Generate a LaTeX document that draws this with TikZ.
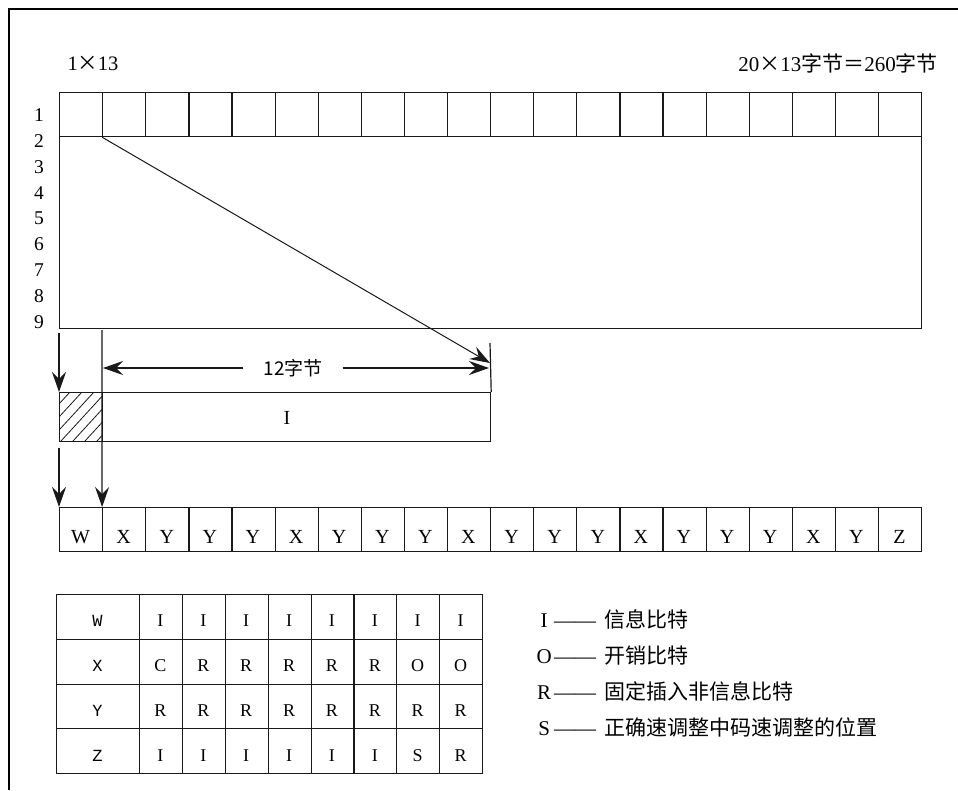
\documentclass[tikz,border=0pt]{standalone}
\usepackage{fontspec}
\setmainfont{Liberation Serif}
\newfontfamily\cjk{Noto Sans CJK SC}
\newfontfamily\mono{Liberation Mono}
\usetikzlibrary{arrows.meta}
\begin{document}
\begin{tikzpicture}[x=1pt,y=-1pt,
  ln/.style={draw=black!90, line width=1.2pt},
  cell/.style={ln, minimum width=43.1pt, minimum height=44pt, inner sep=0pt, anchor=north west},
  tcell/.style={ln, minimum width=42.875pt, minimum height=44.75pt, inner sep=0pt, anchor=north west},
  lett/.style={font=\fontsize{20}{20}\selectfont, inner sep=0pt, anchor=base},
  tlett/.style={font=\fontsize{18}{18}\selectfont, inner sep=0pt, anchor=base},
  num/.style={font=\fontsize{19.5}{19.5}\selectfont, inner sep=0pt},
  arr/.style={ln, -{Stealth[length=20pt,width=14pt,inset=7pt]}},
]
\useasboundingbox (0,0) rectangle (958,790);
% frame
\draw[line width=2.4pt, black] (9,790) -- (9,9) -- (958,9);
% top labels
\node[font=\fontsize{20.5}{20.5}\selectfont, inner sep=0pt] (lab1) at (93,63) {1\makebox[20pt]{\cjk ×}13};
\node[font=\fontsize{21}{21}\selectfont, inner sep=0pt, anchor=east] (lab2) at (938,63)
  {20\makebox[21pt]{\cjk ×}13{\cjk 字节}\makebox[21pt]{\cjk ＝}260{\cjk 字节}};
% top row
\foreach \i in {1,...,20} { \node[cell] (t\i) at ({59+(\i-1)*43.1}, 92) {}; }
% big block
\node[ln, minimum width=862pt, minimum height=192pt, inner sep=0pt, anchor=north west] (big) at (59,136) {};
% row numbers
\foreach \i in {1,...,9} { \node[num] (r\i) at (39, {115+(\i-1)*25.9}) {\i}; }
% hatched box and I box
\node[ln, minimum width=43pt, minimum height=49pt, inner sep=0pt, anchor=north west] (h) at (59,392) {};
\begin{scope}
  \clip (59,392) rectangle (102,441);
  \foreach \k in {-4,...,4} { \draw[black!90, line width=0.8pt] ({61+\k*12},441) -- ++(45,-49); }
\end{scope}
\node[ln, minimum width=388pt, minimum height=49pt, inner sep=0pt, anchor=north west] (ibox) at (102,392) {};
\node[font=\fontsize{20}{20}\selectfont, inner sep=0pt] (ilab) at (287,418) {I};
% bottom row
\foreach \l [count=\i] in {W,X,Y,Y,Y,X,Y,Y,Y,X,Y,Y,Y,X,Y,Y,Y,X,Y,Z} {
  \node[cell] (b\i) at ({59+(\i-1)*43.1}, 507) {};
  \node[lett] (bl\i) at ({59+(\i-0.5)*43.1}, 543) {\l};
}
% diagonal and tick
\coordinate (tip) at (490,363);
\draw[ln, line width=1pt, -{Stealth[length=20pt,width=14pt,inset=7pt]}] (t2.south west) -- (tip);
\coordinate (tickTop) at (490,343);
\draw[ln] (tickTop) -- (ibox.north east);
% dimension 12字节
\node[font=\cjk\fontsize{19}{19}\selectfont, inner xsep=20pt, inner ysep=0pt] (dim) at (293,368) {12字节};
\coordinate (dL) at (103,368);
\coordinate (dR) at (489,368);
\draw[arr] (dim.west) -- (dL);
\draw[arr] (dim.east) -- (dR);
% vertical arrows
\coordinate (v2) at (102,330);
\draw[arr] (v2) -- (b2.north west);
\coordinate (v1a) at (59,333);
\draw[arr] (v1a) -- (h.north west);
\coordinate (v1b) at (59,448);
\draw[arr] (v1b) -- (b1.north west);
% table
\foreach \lab/\vals [count=\ri] in {W/{I,I,I,I,I,I,I,I}, X/{C,R,R,R,R,R,O,O}, Y/{R,R,R,R,R,R,R,R}, Z/{I,I,I,I,I,I,S,R}} {
  \node[ln, minimum width=83pt, minimum height=44.75pt, inner sep=0pt, anchor=north west] (tb-\ri-0) at (56, {594+(\ri-1)*44.75}) {};
  \node[font=\mono\fontsize{17}{17}\selectfont, inner sep=0pt, anchor=base] (tl-\ri-0) at (97.5, {594+\ri*44.75-12}) {\lab};
  \foreach \v [count=\ci] in \vals {
    \node[tcell] (tb-\ri-\ci) at ({139+(\ci-1)*42.875}, {594+(\ri-1)*44.75}) {};
    \node[tlett] (tl-\ri-\ci) at ({139+(\ci-0.5)*42.875}, {594+\ri*44.75-12}) {\v};
  }
}
% legend
\foreach \L/\T [count=\k] in {I/信息比特, O/开销比特, R/固定插入非信息比特, S/正确速调整中码速调整的位置} {
  \node[anchor=base west, inner sep=0pt, font=\fontsize{21}{21}\selectfont] (lg\k) at (534, {627+(\k-1)*36})
    {\makebox[20pt]{\L}{\fontsize{21}{21}\selectfont ——}\hspace{8pt}{\cjk\fontsize{21}{21}\selectfont \T}};
}
\end{tikzpicture}
\end{document}
